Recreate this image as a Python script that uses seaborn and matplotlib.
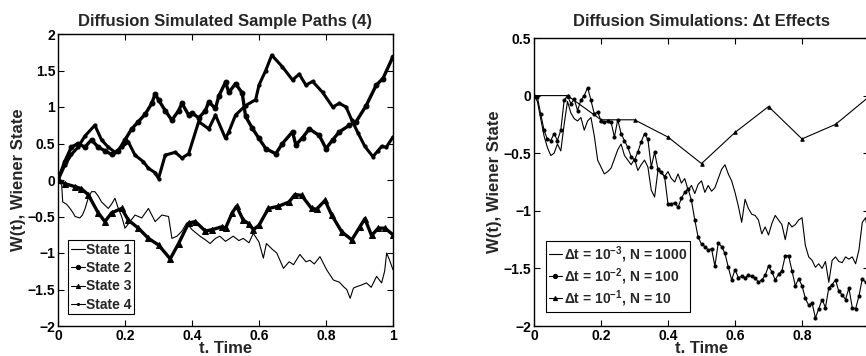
import numpy as np
import seaborn as sns
import matplotlib.pyplot as plt

# ---- left panel: four sample paths ----
state1_t = [0, 0.011, 0.014, 0.025, 0.036, 0.045, 0.051, 0.065, 0.073, 0.081,
            0.09, 0.1, 0.11, 0.12, 0.13, 0.15, 0.16, 0.17, 0.18, 0.19,
            0.2, 0.21, 0.23, 0.25, 0.27, 0.29, 0.31, 0.33, 0.34, 0.355,
            0.37, 0.384, 0.4, 0.424, 0.44, 0.454, 0.47, 0.483, 0.5, 0.523,
            0.54, 0.553, 0.57, 0.583, 0.6, 0.613, 0.622, 0.64, 0.653, 0.673,
            0.69, 0.703, 0.722, 0.74, 0.752, 0.765, 0.782, 0.802, 0.822, 0.84,
            0.852, 0.862, 0.872, 0.882, 0.892, 0.905, 0.921, 0.935, 0.951, 0.966,
            0.975, 0.981, 0.99, 1.0]
state1_w = [0, -0.07, -0.30, -0.33, -0.39, -0.45, -0.50, -0.52, -0.48, -0.39,
            -0.25, -0.16, -0.16, -0.22, -0.30, -0.39, -0.33, -0.25, -0.39, -0.50,
            -0.66, -0.60, -0.48, -0.52, -0.39, -0.57, -0.48, -0.50, -0.80, -0.77,
            -0.70, -0.59, -0.68, -0.77, -0.82, -0.87, -0.80, -0.77, -0.84, -0.77,
            -0.83, -0.80, -0.86, -0.73, -0.85, -1.07, -0.87, -0.95, -1.00, -1.21,
            -1.12, -1.16, -1.02, -1.12, -1.10, -1.15, -1.05, -1.23, -1.37, -1.40,
            -1.46, -1.50, -1.62, -1.48, -1.46, -1.44, -1.41, -1.47, -1.32, -1.41,
            -1.25, -1.00, -1.10, -1.23]

state2_t = [0, 0.02, 0.04, 0.06, 0.08, 0.1, 0.12, 0.14, 0.16, 0.18,
            0.2, 0.22, 0.24, 0.26, 0.28, 0.29, 0.3, 0.32, 0.34, 0.36,
            0.37, 0.39, 0.4, 0.42, 0.44, 0.45, 0.47, 0.48, 0.5, 0.51,
            0.53, 0.55, 0.56, 0.58, 0.6, 0.62, 0.65, 0.67, 0.7, 0.71,
            0.73, 0.75, 0.78, 0.8, 0.82, 0.84, 0.87, 0.89, 0.92, 0.95,
            0.97, 1.0]
state2_w = [0, 0.25, 0.45, 0.50, 0.45, 0.55, 0.45, 0.40, 0.35, 0.40,
            0.55, 0.70, 0.80, 0.90, 1.05, 1.18, 1.10, 0.95, 0.82, 0.95,
            1.05, 0.89, 0.92, 0.85, 0.95, 1.07, 0.98, 1.15, 1.34, 1.20,
            1.32, 1.19, 0.87, 0.71, 0.57, 0.43, 0.36, 0.50, 0.66, 0.48,
            0.58, 0.70, 0.61, 0.43, 0.55, 0.66, 0.75, 0.80, 1.02, 1.30,
            1.39, 1.69]

state3_t = [0, 0.02, 0.05, 0.07, 0.09, 0.12, 0.14, 0.16, 0.19, 0.21,
            0.24, 0.27, 0.3, 0.335, 0.36, 0.39, 0.41, 0.44, 0.46, 0.49,
            0.5, 0.52, 0.533, 0.553, 0.57, 0.583, 0.6, 0.628, 0.658, 0.69,
            0.707, 0.727, 0.757, 0.772, 0.797, 0.817, 0.847, 0.877, 0.9, 0.916,
            0.936, 0.956, 0.976, 1.0]
state3_w = [0, -0.05, -0.09, -0.12, -0.20, -0.45, -0.57, -0.45, -0.39, -0.55,
            -0.66, -0.80, -0.89, -1.08, -0.87, -0.59, -0.57, -0.70, -0.68, -0.64,
            -0.66, -0.45, -0.36, -0.55, -0.60, -0.68, -0.62, -0.39, -0.36, -0.30,
            -0.20, -0.21, -0.39, -0.40, -0.28, -0.48, -0.71, -0.82, -0.65, -0.53,
            -0.76, -0.66, -0.66, -0.75]

state4_t = [0, 0.02, 0.04, 0.06, 0.08, 0.11, 0.13, 0.15, 0.17, 0.19,
            0.21, 0.23, 0.255, 0.27, 0.29, 0.3, 0.32, 0.35, 0.37, 0.39,
            0.42, 0.45, 0.47, 0.5, 0.51, 0.53, 0.56, 0.59, 0.6, 0.62,
            0.638, 0.67, 0.7, 0.72, 0.74, 0.76, 0.79, 0.82, 0.84, 0.86,
            0.877, 0.896, 0.916, 0.94, 0.955, 0.966, 0.98, 1.0]
state4_w = [0, 0.20, 0.35, 0.45, 0.60, 0.75, 0.55, 0.45, 0.38, 0.45,
            0.52, 0.34, 0.25, 0.16, 0.10, 0.02, 0.34, 0.38, 0.30, 0.36,
            0.80, 0.70, 0.89, 0.57, 0.66, 0.89, 1.02, 1.10, 1.30, 1.50,
            1.71, 1.55, 1.37, 1.45, 1.30, 1.35, 1.20, 1.00, 1.05, 1.00,
            0.82, 0.64, 0.46, 0.32, 0.40, 0.46, 0.45, 0.59]

# ---- right panel: same path at three step sizes ----
fine_w = [0.00, -0.05, -0.20, -0.35, -0.45, -0.52, -0.50, -0.42, -0.48, -0.25,
          -0.05, -0.15, -0.20, -0.22, -0.19, -0.30, -0.22, -0.19, -0.35, -0.56,
          -0.62, -0.68, -0.66, -0.63, -0.55, -0.47, -0.42, -0.52, -0.56, -0.60,
          -0.55, -0.65, -0.60, -0.56, -0.62, -0.82, -0.88, -0.65, -0.67, -0.70,
          -0.66, -0.72, -0.75, -0.68, -0.76, -0.72, -0.82, -0.78, -0.85, -0.77,
          -0.74, -0.84, -0.78, -0.83, -0.80, -0.72, -0.64, -0.60, -0.68, -0.74,
          -0.84, -0.96, -1.10, -0.90, -0.98, -1.03, -1.04, -1.08, -1.20, -1.14,
          -1.21, -1.11, -1.04, -1.08, -1.12, -1.25, -1.10, -1.14, -1.12, -1.08,
          -1.06, -1.30, -1.40, -1.43, -1.49, -1.46, -1.50, -1.44, -1.62, -1.43,
          -1.40, -1.44, -1.45, -1.40, -1.42, -1.40, -1.46, -1.34, -1.10, -1.06,
          -1.25]
mid_w = [0.00, -0.01, -0.16, -0.30, -0.38, -0.39, -0.33, -0.39, -0.30, -0.04,
         0.00, -0.07, -0.03, -0.13, -0.04, 0.00, 0.07, -0.04, -0.16, -0.14,
         -0.22, -0.23, -0.22, -0.23, -0.36, -0.21, -0.33, -0.39, -0.45, -0.53,
         -0.56, -0.49, -0.40, -0.33, -0.38, -0.62, -0.49, -0.64, -0.66, -0.71,
         -0.94, -0.94, -0.93, -0.97, -0.89, -0.84, -0.81, -0.91, -1.08, -1.23,
         -1.29, -1.31, -1.34, -1.33, -1.48, -1.28, -1.31, -1.37, -1.49, -1.60,
         -1.51, -1.58, -1.57, -1.58, -1.56, -1.57, -1.58, -1.62, -1.60, -1.56,
         -1.48, -1.53, -1.60, -1.55, -1.52, -1.39, -1.39, -1.52, -1.65, -1.59,
         -1.65, -1.76, -1.82, -1.80, -1.93, -1.85, -1.77, -1.84, -1.67, -1.64,
         -1.60, -1.70, -1.73, -1.77, -1.67, -1.84, -1.85, -1.74, -1.59, -1.62,
         -1.60]
coarse_w = [0.00, 0.00, -0.21, -0.21, -0.36, -0.59, -0.32, -0.095, -0.376, -0.25, -0.01]

fine_t = np.linspace(0, 1, len(fine_w))
mid_t = np.linspace(0, 1, len(mid_w))
coarse_t = np.linspace(0, 1, len(coarse_w))

sns.set_style('ticks')
plt.rcParams['font.family'] = ['Liberation Sans', 'DejaVu Sans']
plt.rcParams['font.weight'] = 'bold'
plt.rcParams['axes.labelweight'] = 'bold'
plt.rcParams['axes.titleweight'] = 'bold'
plt.rcParams['mathtext.fontset'] = 'custom'
plt.rcParams['mathtext.rm'] = 'Liberation Sans:bold'
plt.rcParams['mathtext.it'] = 'Liberation Sans:bold'
plt.rcParams['mathtext.bf'] = 'Liberation Sans:bold'
plt.rcParams['axes.unicode_minus'] = True

fig = plt.figure(figsize=(8.66, 3.56), dpi=100)
ax1 = fig.add_axes([58 / 866, 30 / 356, 335 / 866, 292 / 356])
ax2 = fig.add_axes([534 / 866, 30 / 356, 335 / 866, 288 / 356])

kw = dict(color='k', estimator=None, sort=False)
sns.lineplot(x=state1_t, y=state1_w, ax=ax1, lw=0.8, label='State 1', **kw)
sns.lineplot(x=state2_t, y=state2_w, ax=ax1, lw=2.4, marker='o', ms=3.5,
             mec='k', label='State 2', **kw)
sns.lineplot(x=state3_t, y=state3_w, ax=ax1, lw=2.4, marker='^', ms=4,
             mec='k', label='State 3', **kw)
sns.lineplot(x=state4_t, y=state4_w, ax=ax1, lw=2.2, marker='.', ms=4.5,
             mec='k', label='State 4', **kw)

sns.lineplot(x=fine_t, y=fine_w, ax=ax2, lw=0.8,
             label=r'$\Delta$t = 10$^{-3}$, N = 1000', **kw)
sns.lineplot(x=mid_t, y=mid_w, ax=ax2, lw=0.8, marker='o', ms=2.2,
             mec='k', label=r'$\Delta$t = 10$^{-2}$, N = 100', **kw)
sns.lineplot(x=coarse_t, y=coarse_w, ax=ax2, lw=0.8, marker='^', ms=2.5,
             mec='k', label=r'$\Delta$t = 10$^{-1}$, N = 10', **kw)

ax1.set_ylim(-2, 2)
ax1.set_yticks([-2, -1.5, -1, -0.5, 0, 0.5, 1, 1.5, 2])
ax1.set_yticklabels(['\u22122', '\u22121.5', '\u22121', '\u22120.5', '0', '0.5', '1', '1.5', '2'])
ax2.set_ylim(-2, 0.5)
ax2.set_yticks([-2, -1.5, -1, -0.5, 0, 0.5])
ax2.set_yticklabels(['\u22122', '\u22121.5', '\u22121', '\u22120.5', '0', '0.5'])

ax1.set_xticks([0, 0.2, 0.4, 0.6, 0.8, 1])
ax1.set_xticklabels(['0', '0.2', '0.4', '0.6', '0.8', '1'])
# the right panel runs past the figure edge, so its last label is not shown
ax2.set_xticks([0, 0.2, 0.4, 0.6, 0.8, 1])
ax2.set_xticklabels(['0', '0.2', '0.4', '0.6', '0.8', ''])

for ax in (ax1, ax2):
    ax.set_xlim(0, 1)
    ax.tick_params(direction='in', top=True, right=True, length=4, width=0.8,
                   labelsize=10, pad=2, colors='k')
    for s in ax.spines.values():
        s.set_linewidth(1.0)
        s.set_color('k')
    ax.set_xlabel('t. Time', fontsize=12, labelpad=-1)
    ax.set_ylabel('W(t), Wiener State', fontsize=12, labelpad=1)

ax1.set_title('Diffusion Simulated Sample Paths (4)', fontsize=12, pad=6)
ax2.set_title('Diffusion Simulations: \u0394t Effects', fontsize=12, pad=9)

lkw = dict(loc='lower left', fontsize=10, frameon=True, fancybox=False,
           edgecolor='k', framealpha=1, borderpad=0.2,
           handlelength=1.0, handletextpad=0.1, borderaxespad=0)
leg1 = ax1.legend(bbox_to_anchor=(0.03, 0.04), labelspacing=0.3, **lkw)
leg2 = ax2.legend(bbox_to_anchor=(0.035, 0.05), labelspacing=0.1, **lkw)
for leg in (leg1, leg2):
    leg.get_frame().set_linewidth(0.8)
    for ln in leg.get_lines():
        ln.set_linewidth(0.8)
        ln.set_markersize(3)

fig.savefig('out.png', dpi=100)
